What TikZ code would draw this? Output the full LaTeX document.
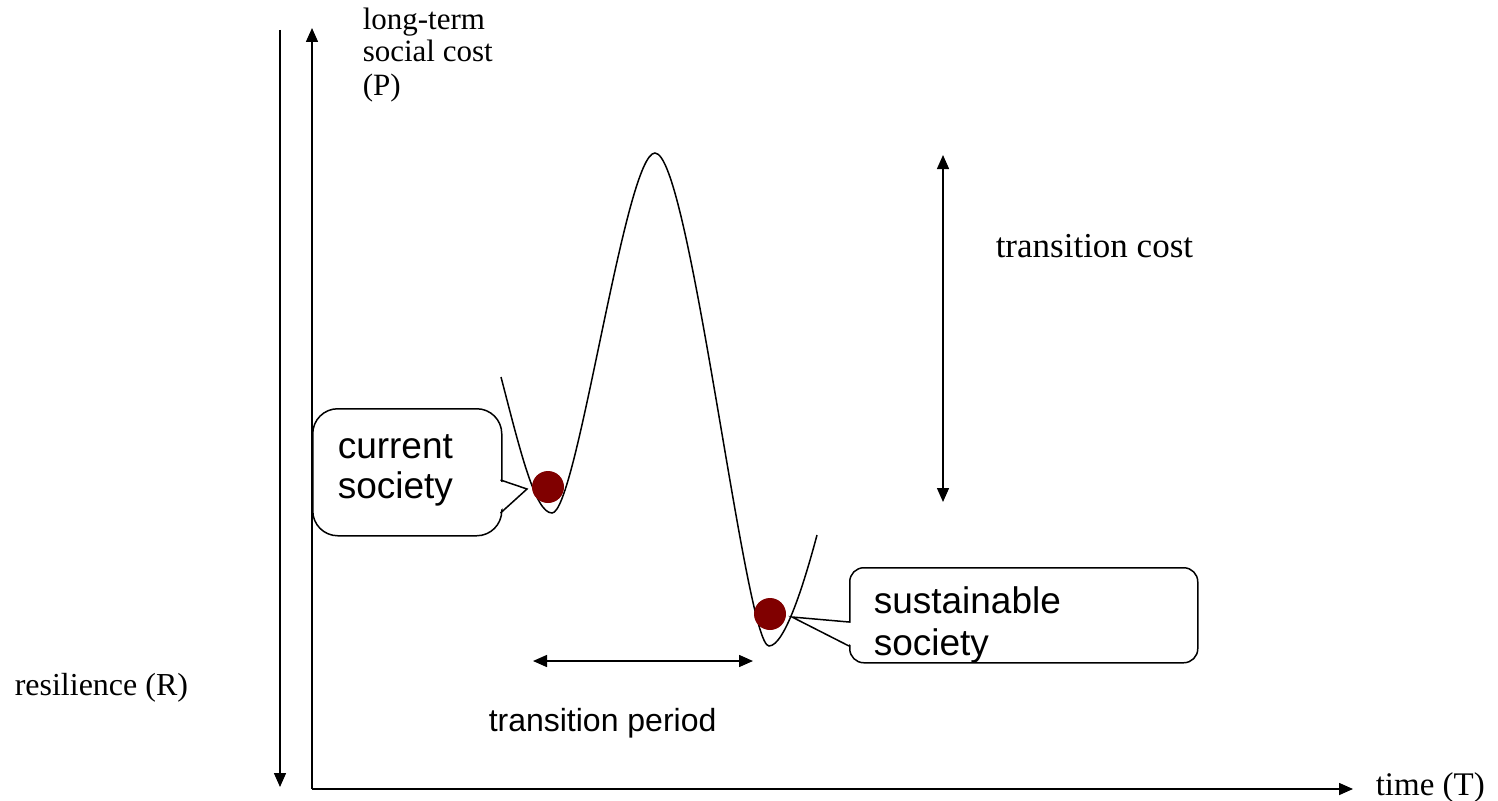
\documentclass[tikz,border=0pt]{standalone}
\usepackage{fontspec}
\setmainfont{Liberation Serif}
\setsansfont{Liberation Sans}
\usetikzlibrary{arrows.meta}
\definecolor{ball}{HTML}{800000}
\begin{document}
\begin{tikzpicture}[x=1pt,y=-1pt, line width=1.5pt,
  tip/.tip={Triangle[length=14pt,width=12pt]},
  axis/.style={-tip},
  dbl/.style={tip-tip},
  lbl/.style={inner sep=0pt, anchor=base west, font=\fontsize{33}{33}\selectfont},
  smalllbl/.style={inner sep=0pt, anchor=base west, font=\fontsize{31}{31}\selectfont},
  sanslbl/.style={inner sep=0pt, anchor=base west, font=\sffamily\fontsize{37}{37}\selectfont},
  sanssmall/.style={inner sep=0pt, anchor=base west, font=\sffamily\fontsize{32}{32}\selectfont},
  ballst/.style={circle, fill=ball, minimum size=32pt, inner sep=0pt},
  boxst/.style={draw, inner sep=0pt, anchor=north west}]
\useasboundingbox (0,0) rectangle (1498,800);
% axes
\coordinate (O) at (312,789);
\coordinate (ytop) at (312,28);
\coordinate (xend) at (1353,789);
\coordinate (rtop) at (280,30);
\coordinate (rbot) at (280,787);
\draw[axis] (O) -- (ytop);
\draw[axis] (O) -- (xend);
\draw[axis] (rtop) -- (rbot);
% axis labels
\node[smalllbl] (l1) at (362,30) {long-term};
\node[smalllbl] (l2) at (362,62) {social cost};
\node[smalllbl] (l3) at (362,95) {(P)};
\node[smalllbl, font=\fontsize{32}{32}\selectfont] (res) at (14,695) {resilience (R)};
\node[lbl] (time) at (1375,795) {time (T)};
% landscape curve
\draw (501,377) .. controls (520,450) and (535,513) .. (552,513)
      .. controls (577,513) and (625,153) .. (655,153)
      .. controls (690,153) and (745,646) .. (769,646)
      .. controls (785,646) and (805,580) .. (817,535);
% transition cost
\coordinate (tc1) at (943,155);
\coordinate (tc2) at (943,502);
\draw[dbl] (tc1) -- (tc2);
\node[lbl, font=\fontsize{35}{35}\selectfont] (tcost) at (995,257) {transition cost};
% transition period
\coordinate (tp1) at (533,661);
\coordinate (tp2) at (753,661);
\draw[dbl] (tp1) -- (tp2);
\node[sanssmall] (tperiod) at (488,731) {transition period};
% callout: current society
\node[boxst, rounded corners=25pt, minimum width=189pt, minimum height=127pt] (cbox) at (312,408) {};
\coordinate (cb1) at (500.5,480);
\coordinate (cb2) at (500.5,513);
\coordinate (ctip) at (527,489);
\fill[white] (498,481) -- (ctip) -- (498,512) -- cycle;
\draw[line join=miter] (cb1) -- (ctip) -- (cb2);
\node[sanslbl] (ct1) at (337,458) {current};
\node[sanslbl] (ct2) at (337,498) {society};
% callout: sustainable society
\node[boxst, rounded corners=14pt, minimum width=348pt, minimum height=95pt] (sbox) at (849,567) {};
\coordinate (sb1) at (849,622);
\coordinate (sb2) at (849,646);
\coordinate (stip) at (792,617);
\fill[white] (851,623) -- (stip) -- (851,645) -- cycle;
\draw[line join=miter] (sb1) -- (stip) -- (sb2);
\node[sanslbl] (st1) at (873,613) {sustainable};
\node[sanslbl] (st2) at (873,655) {society};
% balls
\node[ballst] (b1) at (548,487) {};
\node[ballst] (b2) at (770,614) {};
\end{tikzpicture}
\end{document}
